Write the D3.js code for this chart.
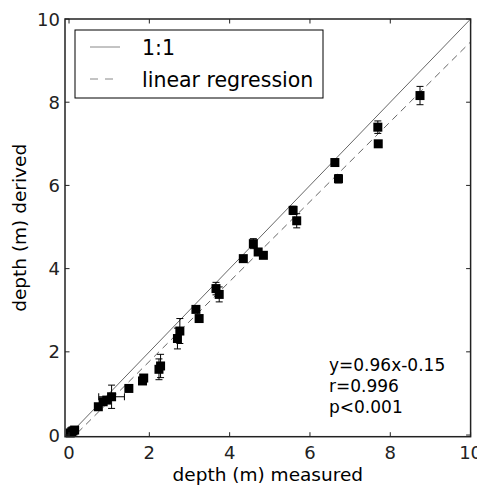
<!DOCTYPE html>
<html>
<head>
<meta charset="utf-8">
<script src="https://cdn.jsdelivr.net/npm/d3@7"></script>
<style>
  body { margin: 0; background: #fff; }
  svg { display: block; font-family: "DejaVu Sans", sans-serif; }
</style>
</head>
<body>
<svg id="chart" width="477" height="490"></svg>
<script>
// values
var measured = [0.03, 0.07, 0.10, 0.14, 0.73, 0.85, 0.94, 1.06, 1.49, 1.83, 1.86, 2.24, 2.28,
                2.70, 2.76, 3.16, 3.24, 3.66, 3.74, 4.34, 4.59, 4.71, 4.84, 5.58, 5.67,
                6.62, 6.71, 7.69, 7.70, 8.74];
var derived  = [0.05, 0.08, 0.10, 0.12, 0.68, 0.80, 0.84, 0.92, 1.12, 1.30, 1.37, 1.58, 1.66,
                2.32, 2.50, 3.02, 2.80, 3.52, 3.38, 4.24, 4.60, 4.40, 4.32, 5.40, 5.15,
                6.55, 6.16, 7.40, 7.00, 8.16];
var derivedErr = [0.03, 0.03, 0.03, 0.03, 0.05, 0.08, 0.06, 0.28, 0.04, 0.05, 0.05, 0.25, 0.28,
                  0.25, 0.30, 0.06, 0.07, 0.15, 0.18, 0.04, 0.12, 0.08, 0.06, 0.10, 0.17,
                  0.04, 0.10, 0.15, 0.04, 0.22];
var measuredErr = [0, 0, 0, 0, 0, 0.08, 0, 0.32, 0, 0, 0, 0, 0,
                   0, 0, 0, 0, 0, 0, 0, 0, 0, 0, 0, 0,
                   0, 0, 0, 0, 0];
var ticks = [0, 2, 4, 6, 8, 10];
var slope = 0.96, intercept = -0.15;
var statLines = ["y=0.96x-0.15", "r=0.996", "p<0.001"];
var legendLabels = ["1:1", "linear regression"];

var L = 65, R = 470.6, T = 19, B = 436.7;
var svg = d3.select("#chart");

var x = d3.scaleLinear().domain([-0.1, 10]).range([L, R]);
var y = d3.scaleLinear().domain([-0.04, 10]).range([B, T]);

var pts = measured.map(function(m, i) {
  return {x: m, y: derived[i], ey: derivedErr[i], ex: measuredErr[i]};
});

var plot = svg.append("g");
plot.append("clipPath").attr("id", "clip")
  .append("rect").attr("x", L).attr("y", T).attr("width", R - L).attr("height", B - T);

var line = d3.line().x(function(d) { return x(d[0]); }).y(function(d) { return y(d[1]); });

// 1:1 and regression lines
plot.append("path")
  .attr("clip-path", "url(#clip)")
  .attr("d", line([[0, 0], [10, 10]]))
  .attr("stroke", "#666").attr("stroke-width", 1).attr("fill", "none");
plot.append("path")
  .attr("clip-path", "url(#clip)")
  .attr("d", line([[0, intercept], [10, slope * 10 + intercept]]))
  .attr("stroke", "#666").attr("stroke-width", 1).attr("stroke-dasharray", "7,5").attr("fill", "none");

// error bars
var cap = 3.5;
var eb = plot.append("g").attr("stroke", "#000").attr("stroke-width", 1);
pts.forEach(function(d) {
  if (d.ey > 0) {
    eb.append("line").attr("x1", x(d.x)).attr("x2", x(d.x)).attr("y1", y(d.y - d.ey)).attr("y2", y(d.y + d.ey));
    [d.y - d.ey, d.y + d.ey].forEach(function(v) {
      eb.append("line").attr("x1", x(d.x) - cap).attr("x2", x(d.x) + cap).attr("y1", y(v)).attr("y2", y(v));
    });
  }
  if (d.ex > 0) {
    eb.append("line").attr("x1", x(d.x - d.ex)).attr("x2", x(d.x + d.ex)).attr("y1", y(d.y)).attr("y2", y(d.y));
    [d.x - d.ex, d.x + d.ex].forEach(function(v) {
      eb.append("line").attr("x1", x(v)).attr("x2", x(v)).attr("y1", y(d.y) - cap).attr("y2", y(d.y) + cap);
    });
  }
});

// square markers
var ms = 9;
plot.selectAll("rect.pt").data(pts).enter().append("rect")
  .attr("class", "pt")
  .attr("x", function(d) { return x(d.x) - ms / 2; })
  .attr("y", function(d) { return y(d.y) - ms / 2; })
  .attr("width", ms).attr("height", ms)
  .attr("fill", "#000");

// ticks pointing inward on all four sides
var tl = 4.5;
var tg = svg.append("g").attr("stroke", "#222").attr("stroke-width", 1);
ticks.forEach(function(t) {
  tg.append("line").attr("x1", x(t)).attr("x2", x(t)).attr("y1", B).attr("y2", B - tl);
  tg.append("line").attr("x1", x(t)).attr("x2", x(t)).attr("y1", T).attr("y2", T + tl);
  tg.append("line").attr("y1", y(t)).attr("y2", y(t)).attr("x1", L).attr("x2", L + tl);
  tg.append("line").attr("y1", y(t)).attr("y2", y(t)).attr("x1", R).attr("x2", R - tl);
});

// tick labels
svg.append("g").selectAll("text").data(ticks).enter().append("text")
  .attr("x", function(d) { return x(d); }).attr("y", B + 22)
  .attr("text-anchor", "middle").attr("font-size", 18).attr("fill", "#222")
  .text(function(d) { return d; });
svg.append("g").selectAll("text").data(ticks).enter().append("text")
  .attr("x", L - 5).attr("y", function(d) { return y(d) + 6.5; })
  .attr("text-anchor", "end").attr("font-size", 18).attr("fill", "#222")
  .text(function(d) { return d; });

// frame
svg.append("rect").attr("x", L).attr("y", T).attr("width", R - L).attr("height", B - T)
  .attr("fill", "none").attr("stroke", "#222").attr("stroke-width", 1.5);

// axis titles
svg.append("text").attr("x", (L + R) / 2).attr("y", 481)
  .attr("text-anchor", "middle").attr("font-size", 18.5).attr("fill", "#000")
  .text("depth (m) measured");
svg.append("text").attr("transform", "translate(26," + ((T + B) / 2) + ") rotate(-90)")
  .attr("text-anchor", "middle").attr("font-size", 18.5).attr("fill", "#000")
  .text("depth (m) derived");

// stats text
svg.append("g").selectAll("text").data(statLines).enter().append("text")
  .attr("x", 329).attr("y", function(d, i) { return 371 + i * 21; })
  .attr("font-size", 17).attr("fill", "#000")
  .text(function(d) { return d; });

// legend
var lg = svg.append("g");
lg.append("rect").attr("x", 75).attr("y", 30).attr("width", 248).attr("height", 68)
  .attr("fill", "#fff").attr("stroke", "#000").attr("stroke-width", 1);
legendLabels.forEach(function(lab, i) {
  var cy = 47 + i * 32;
  lg.append("line").attr("x1", 90).attr("x2", 120).attr("y1", cy).attr("y2", cy)
    .attr("stroke", "#888").attr("stroke-width", 1)
    .attr("stroke-dasharray", i === 1 ? "8,7" : null);
  lg.append("text").attr("x", 142).attr("y", cy + 7.5)
    .attr("font-size", 20.5).attr("fill", "#000").text(lab);
});
</script>
</body>
</html>
